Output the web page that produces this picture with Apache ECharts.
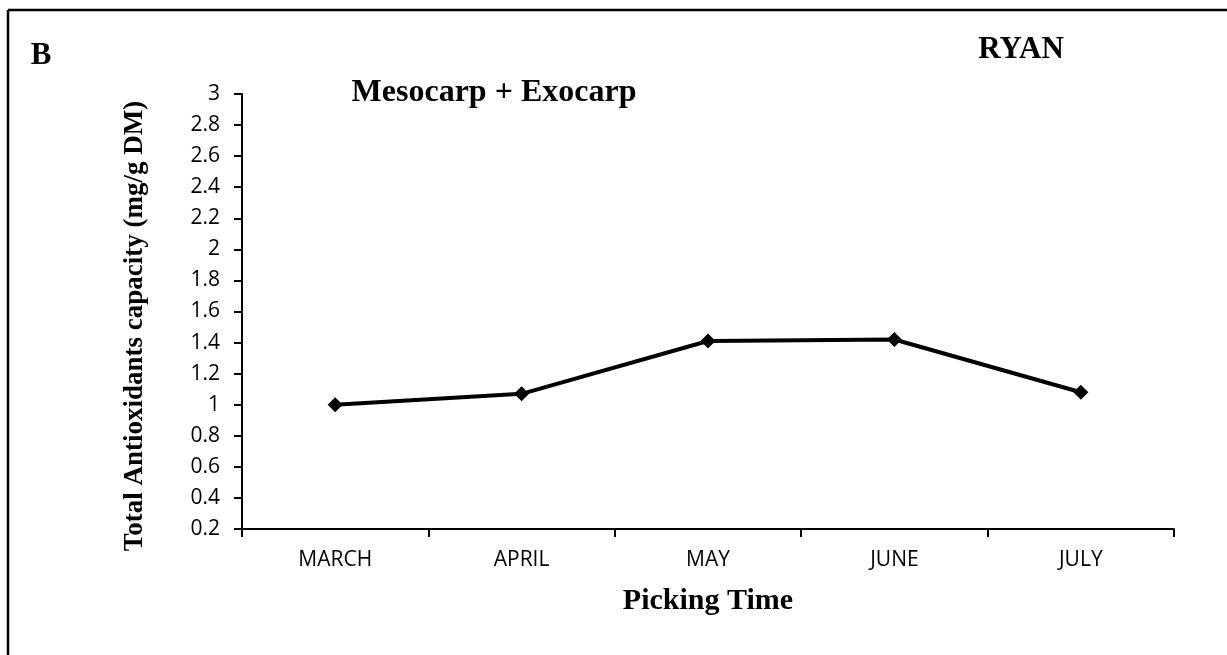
<!DOCTYPE html>
<html>
<head>
<meta charset="utf-8">
<script src="https://cdn.jsdelivr.net/npm/echarts@6/dist/echarts.min.js"></script>
<style>
html, body { margin: 0; padding: 0; background: #fff; }
#main { width: 1227px; height: 655px; }
</style>
</head>
<body>
<div id="main"></div>
<script>
// data
var months = ['MARCH', 'APRIL', 'MAY', 'JUNE', 'JULY'];
var antioxidants = [1.0, 1.07, 1.41, 1.42, 1.08];
var yMin = 0.2, yMax = 3, yStep = 0.2;

var serif = '"Times New Roman", "Liberation Serif", serif';
var sans = '"Open Sans", sans-serif';

var myChart = echarts.init(document.getElementById('main'));

var option = {
    backgroundColor: '#fff',
    animation: false,
    grid: {
        left: 242,
        right: 53,
        top: 94,
        bottom: 126
    },
    xAxis: {
        type: 'category',
        data: months,
        boundaryGap: true,
        axisLine: { lineStyle: { color: '#000', width: 2 } },
        axisTick: { show: true, length: 8, lineStyle: { color: '#000', width: 2 } },
        axisLabel: { color: '#000', fontFamily: sans, fontSize: 21, margin: 21 },
        splitLine: { show: false }
    },
    yAxis: {
        type: 'value',
        min: yMin,
        max: yMax,
        interval: yStep,
        axisLine: { show: true, lineStyle: { color: '#000', width: 2 } },
        axisTick: { show: true, length: 8, lineStyle: { color: '#000', width: 2 } },
        axisLabel: { color: '#000', fontFamily: sans, fontSize: 21, margin: 22 },
        splitLine: { show: false }
    },
    series: [
        {
            name: 'Mesocarp + Exocarp',
            type: 'line',
            data: antioxidants,
            symbol: 'diamond',
            symbolSize: 15,
            lineStyle: { color: '#000', width: 4 },
            itemStyle: { color: '#000' }
        }
    ],
    graphic: [
        // frame edges
        { type: 'line', shape: { x1: 8, y1: 10, x2: 1227, y2: 10 }, style: { stroke: '#000', lineWidth: 2.5 } },
        { type: 'line', shape: { x1: 8, y1: 10, x2: 8, y2: 655 }, style: { stroke: '#000', lineWidth: 2.5 } },
        {
            type: 'text', x: 41, y: 56,
            style: { text: 'B', font: 'bold 31px ' + serif, fill: '#000', textAlign: 'center', textVerticalAlign: 'middle' }
        },
        {
            type: 'text', x: 1021, y: 50,
            style: { text: 'RYAN', font: 'bold 31px ' + serif, fill: '#000', textAlign: 'center', textVerticalAlign: 'middle' }
        },
        {
            type: 'text', x: 494, y: 93,
            style: { text: 'Mesocarp + Exocarp', font: 'bold 32px ' + serif, fill: '#000', textAlign: 'center', textVerticalAlign: 'middle' }
        },
        {
            type: 'text', x: 708, y: 601,
            style: { text: 'Picking Time', font: 'bold 30px ' + serif, fill: '#000', textAlign: 'center', textVerticalAlign: 'middle' }
        },
        {
            type: 'text', x: 135, y: 326, rotation: Math.PI / 2,
            style: { text: 'Total Antioxidants capacity (mg/g DM)', font: 'bold 27px ' + serif, fill: '#000', textAlign: 'center', textVerticalAlign: 'middle' }
        }
    ]
};
myChart.setOption(option);
</script>
</body>
</html>
